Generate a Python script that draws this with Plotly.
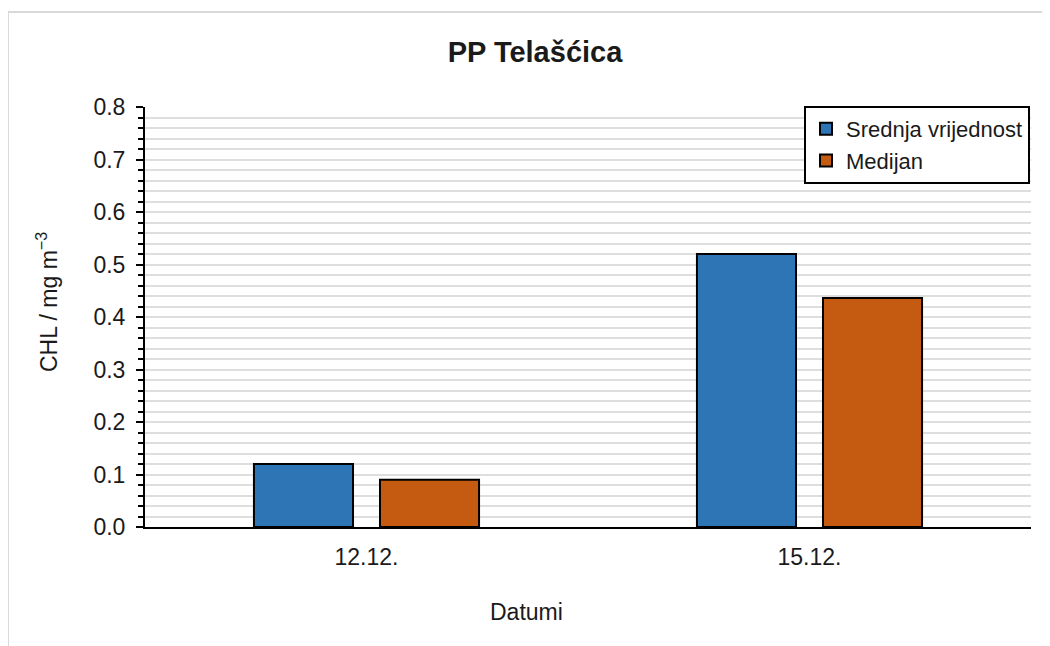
import plotly.graph_objects as go

categories = ["12.12.", "15.12."]
srednja = [0.12, 0.52]
medijan = [0.09, 0.436]
series_names = ["Srednja vrijednost", "Medijan"]
colors = ["#2e75b6", "#c55a11"]
title_text = "PP Telašćica"
x_title = "Datumi"
y_title = "CHL / mg m<sup>−3</sup>"

FONT = "Liberation Sans, Arial, sans-serif"
OFF = 8  # page body margin offset

W, H = 1050, 646
# plot area in page (screenshot) coordinates
PL, PR, PT, PB = 145, 1031, 107, 527
L, T = PL - OFF, PT - OFF
R = W - (PR - OFF)
B = H - (PB - OFF)
pw, ph = W - L - R, H - T - B


def px_x(x):
    return (x - OFF - L) / pw


def px_y(y):
    return (H - B - (y - OFF)) / ph


fig = go.Figure()
for name, vals, col in zip(series_names, [srednja, medijan], colors):
    fig.add_trace(go.Bar(
        x=categories, y=vals, name=name,
        marker=dict(color=col, line=dict(color="black", width=2)),
    ))

fig.update_layout(
    width=W, height=H,
    margin=dict(l=L, r=R, t=T, b=B, autoexpand=False),
    paper_bgcolor="white", plot_bgcolor="white",
    barmode="group", bargap=0.431, bargroupgap=0.214,
    font=dict(family=FONT, size=23, color="#1a1a1a"),
    title=dict(text="<b>" + title_text + "</b>", x=(535 - OFF) / W, xanchor="center",
               y=1 - (52 - OFF) / H, yanchor="middle", font=dict(size=29, color="#1a1a1a")),
    showlegend=True,
    legend=dict(x=px_x(1030), y=px_y(106), xanchor="right", yanchor="top",
                bgcolor="white", bordercolor="black", borderwidth=2,
                font=dict(size=22, color="#1a1a1a"), tracegroupgap=0,
                itemwidth=30, traceorder="normal"),
    xaxis=dict(showline=True, linecolor="black", linewidth=2, ticks="",
               showgrid=False, tickfont=dict(size=23), ticklabelstandoff=8),
    yaxis=dict(range=[0, 0.8], tickvals=[i / 10 for i in range(9)],
               tickformat=".1f", showline=True, linecolor="black", linewidth=2,
               ticks="outside", ticklen=7, tickwidth=2, tickcolor="black",
               showgrid=True, gridcolor="#dedede", gridwidth=1.5,
               zeroline=False, tickfont=dict(size=23), ticklabelstandoff=6,
               minor=dict(dtick=0.02, tick0=0, ticks="outside", ticklen=5,
                          tickwidth=2, tickcolor="black", showgrid=True,
                          gridcolor="#dedede", gridwidth=1.5)),
    annotations=[
        dict(text=x_title, xref="paper", yref="paper", x=px_x(526), y=px_y(612),
             xanchor="center", yanchor="middle", showarrow=False,
             font=dict(size=23, color="#1a1a1a")),
        dict(text=y_title, xref="paper", yref="paper", x=px_x(47), y=px_y(302),
             xanchor="center", yanchor="middle", showarrow=False, textangle=-90,
             font=dict(size=23, color="#1a1a1a")),
    ],
    shapes=[dict(type="rect", xref="paper", yref="paper", layer="below",
                 x0=px_x(8), x1=px_x(1080), y0=px_y(680), y1=px_y(12),
                 line=dict(color="#d9d9d9", width=2), fillcolor="rgba(0,0,0,0)")],
)

fig.write_html("out.html")
